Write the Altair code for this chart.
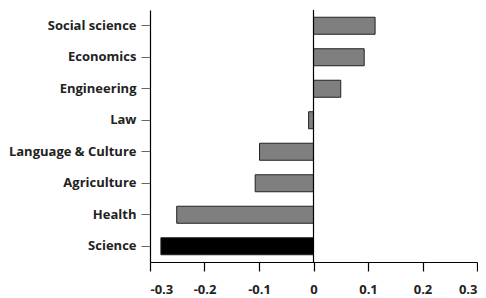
import altair as alt
import pandas as pd

categories = ["Social science", "Economics", "Engineering", "Law",
              "Language & Culture", "Agriculture", "Health", "Science"]
values = [0.113, 0.093, 0.050, -0.009, -0.099, -0.107, -0.251, -0.280]
highlight = [False, False, False, False, False, False, False, True]
x_ticks = [-0.3, -0.2, -0.1, 0, 0.1, 0.2, 0.3]

df = pd.DataFrame({"cat": categories, "val": values, "hl": highlight})

FONT = "Open Sans"

bars = alt.Chart(df).mark_bar(stroke="#222222", strokeWidth=1).encode(
    y=alt.Y("cat:N", sort=categories, title=None,
            scale=alt.Scale(paddingInner=0.46, paddingOuter=0.23),
            axis=alt.Axis(labelFont=FONT, labelFontWeight="bold", labelFontSize=13,
                          labelColor="#222222", tickColor="#666666", tickSize=9,
                          labelPadding=5, domainColor="#000000", domainWidth=1.2)),
    x=alt.X("val:Q", title=None,
            scale=alt.Scale(domain=[-0.3, 0.3], nice=False, zero=False),
            axis=alt.Axis(values=x_ticks, grid=False, tickSize=9, tickColor="#000000",
                          domainColor="#000000", domainWidth=1.2, tickWidth=1.2,
                          labelFont=FONT, labelFontWeight="bold", labelFontSize=13,
                          labelColor="#222222", labelPadding=12,
                          labelExpr="datum.value == 0 ? '0' : toString(round(datum.value*10)/10)")),
    color=alt.Color("hl:N", scale=alt.Scale(domain=[False, True], range=["#7f7f7f", "#000000"]),
                    legend=None),
)

zero = alt.Chart(pd.DataFrame({"z": [0]})).mark_rule(color="#000000", strokeWidth=1.2).encode(
    x="z:Q"
)

chart = alt.layer(bars, zero).properties(
    width=470, height=288,
    padding={"left": 0, "top": 1, "right": 0, "bottom": 0},
    autosize=alt.AutoSizeParams(type="fit", contains="padding"),
).configure_view(stroke=None).configure_axis(grid=False)

chart.save("out.html", embed_options={"renderer": "svg", "actions": False})
